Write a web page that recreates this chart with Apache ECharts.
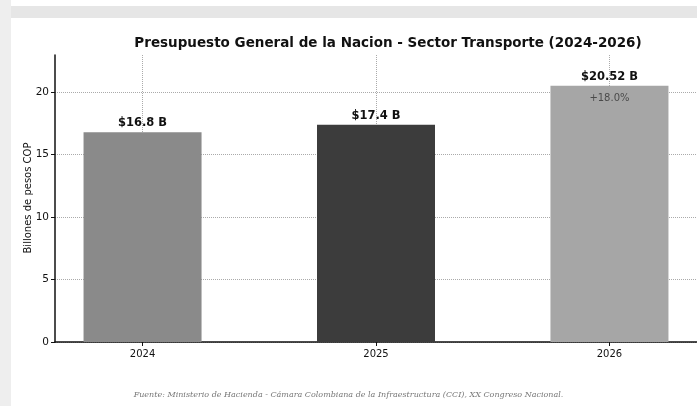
<!DOCTYPE html>
<html>
<head>
<meta charset="utf-8">
<script src="https://cdn.jsdelivr.net/npm/echarts@6/dist/echarts.min.js"></script>
<style>
html,body{margin:0;padding:0;background:#fff;}
#chart{width:697px;height:406px;}
</style>
</head>
<body>
<div id="chart"></div>
<script>
// datos
var years = ['2024', '2025', '2026'];
var values = [16.8, 17.4, 20.52];
var valueLabels = ['$16.8 B', '$17.4 B', '$20.52 B'];
var barColors = ['#8a8a8a', '#3c3c3c', '#a6a6a6'];
var growthLabel = '+18.0%';
var yTicks = [0, 5, 10, 15, 20];
var xTicks = [0, 1, 2];
var yName = 'Billones de pesos COP';

var chart = echarts.init(document.getElementById('chart'));

var barData = values.map(function (v, i) {
  return { value: [i, v], itemStyle: { color: barColors[i] } };
});

var option = {
  backgroundColor: '#fff',
  animation: false,
  textStyle: { fontFamily: 'DejaVu Sans' },
  title: {
    text: 'Presupuesto General de la Nacion - Sector Transporte (2024-2026)',
    left: 383, top: 31, textAlign: 'center',
    textStyle: { fontSize: 13.5, fontWeight: 'bold', color: '#111', fontFamily: 'DejaVu Sans' }
  },
  graphic: [
    { type: 'rect', shape: { x: 0, y: 6, width: 697, height: 12 }, style: { fill: '#e6e6e6' }, silent: true },
    { type: 'rect', shape: { x: 0, y: 0, width: 11, height: 406 }, style: { fill: '#eeeeee' }, silent: true },
    {
      // titulo del eje y, mas cerca del eje que el nameGap
      type: 'text', x: 28, y: 198, rotation: Math.PI / 2,
      style: { text: yName, font: '10px "DejaVu Sans"', fill: '#111', align: 'center', verticalAlign: 'middle' }
    },
    {
      type: 'text', left: 'center', top: 391,
      style: {
        text: 'Fuente: Ministerio de Hacienda - Cámara Colombiana de la Infraestructura (CCI), XX Congreso Nacional.',
        font: 'italic 8px "DejaVu Serif"', fill: '#777'
      }
    }
  ],
  grid: { left: 55, top: 55, width: 647, height: 287 },
  xAxis: {
    type: 'value', min: -0.375, max: 2.375,
    axisLine: { show: true, onZero: false, lineStyle: { color: '#111', width: 1.5 } },
    axisTick: { show: true, customValues: xTicks, length: 4, lineStyle: { color: '#111' } },
    axisLabel: {
      customValues: xTicks, fontSize: 10, color: '#111', margin: 7,
      formatter: function (v) { return years[v]; }
    },
    splitLine: { show: true, lineStyle: { type: 'dotted', color: '#aaa', width: 1 } }
  },
  yAxis: {
    type: 'value', min: 0, max: 22.98,
    axisLine: { show: true, onZero: false, lineStyle: { color: '#111', width: 1.5 } },
    axisTick: { show: true, customValues: yTicks, length: 4, lineStyle: { color: '#111' } },
    axisLabel: { customValues: yTicks, fontSize: 10.5, color: '#111', margin: 6 },
    splitLine: { show: true, lineStyle: { type: 'dotted', color: '#aaa', width: 1 } }
  },
  series: [
    {
      type: 'bar', barWidth: 118, data: barData, z: 3,
      label: {
        show: true, position: 'top', distance: 3,
        fontSize: 11.5, fontWeight: 'bold', color: '#111',
        formatter: function (p) { return valueLabels[p.dataIndex]; }
      }
    },
    {
      type: 'scatter', symbolSize: 0, z: 5,
      data: [[xTicks[2], values[2]]],
      label: {
        show: true, position: 'bottom', distance: 8,
        fontSize: 10, color: '#333', formatter: growthLabel
      }
    }
  ]
};

chart.setOption(option);
</script>
</body>
</html>
